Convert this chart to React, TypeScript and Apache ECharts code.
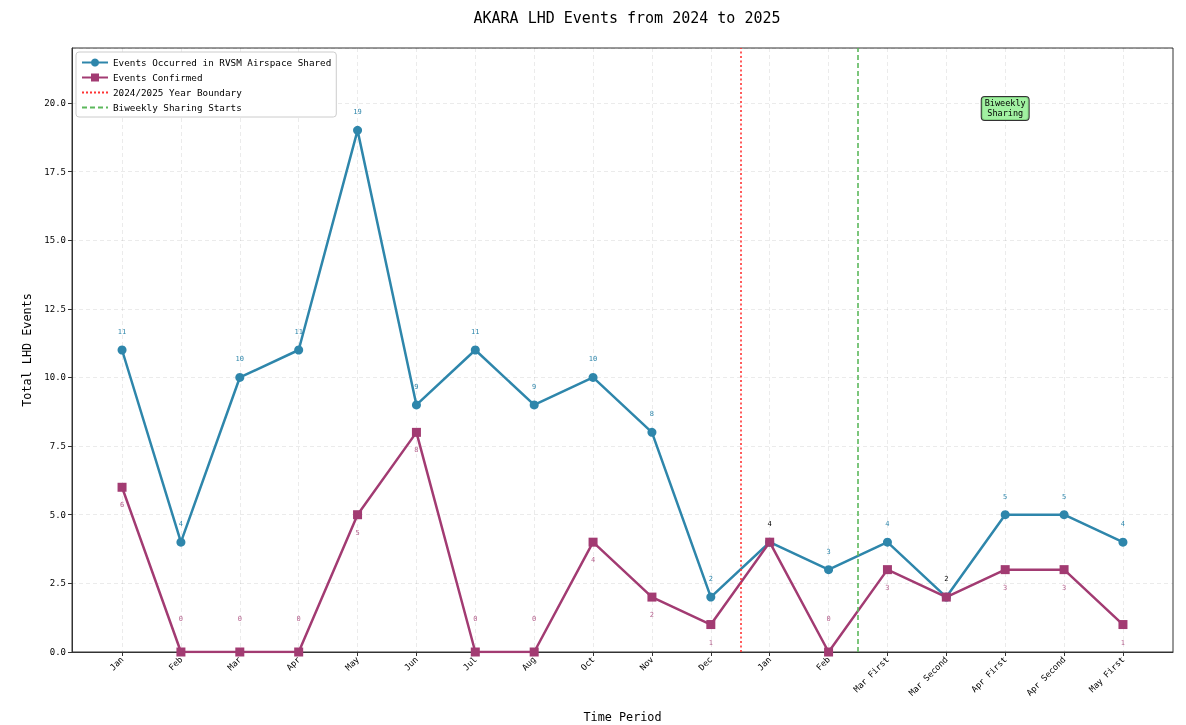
import React, { useEffect, useRef } from "react";
import * as echarts from "echarts";

const categories = ["Jan", "Feb", "Mar", "Apr", "May", "Jun", "Jul", "Aug", "Oct", "Nov", "Dec", "Jan", "Feb", "Mar First", "Mar Second", "Apr First", "Apr Second", "May First"];
const occurred = [11, 4, 10, 11, 19, 9, 11, 9, 10, 8, 2, 4, 3, 4, 2, 5, 5, 4];
const confirmed = [6, 0, 0, 0, 5, 8, 0, 0, 4, 2, 1, 4, 0, 3, 2, 3, 3, 1];
const yearBoundaryX = 10.5;
const biweeklyStartX = 12.5;
const noteCoord = [15, 19.8];
const yTickLabels = ["0.0", "2.5", "5.0", "7.5", "10.0", "12.5", "15.0", "17.5", "20.0"];

const BLUE = "#2E86AB";
const MAG = "#A23B72";
const FONT = "DejaVu Sans Mono";

export default function App() {
  const ref = useRef<HTMLDivElement>(null);
  useEffect(() => {
    const chart = echarts.init(ref.current!, undefined, { renderer: "svg" });
    const idx = categories.map((_, i) => i);
    const blueData = idx.map((i) => {
      const tie = occurred[i] === confirmed[i];
      return {
        value: [i, occurred[i]],
        label: tie ? { color: "#000" } : undefined,
      };
    });
    const magData = idx.map((i) => {
      const tie = occurred[i] === confirmed[i];
      return {
        value: [i, confirmed[i]],
        label: tie ? { show: false } : confirmed[i] === 0 ? { offset: [0, -33] } : undefined,
      };
    });
    chart.setOption({
      animation: false,
      textStyle: { fontFamily: FONT },
      title: {
        text: "AKARA LHD Events from 2024 to 2025",
        left: 622,
        textAlign: "center",
        top: 5,
        textStyle: { fontFamily: FONT, fontSize: 15, fontWeight: "normal", color: "#000" },
      },
      legend: {
        orient: "vertical",
        left: 76,
        top: 52,
        padding: [6, 5, 5, 5],
        itemGap: 6,
        itemWidth: 26,
        itemHeight: 10,
        backgroundColor: "#fff",
        borderColor: "#ccc",
        borderWidth: 1,
        borderRadius: 3,
        textStyle: { fontFamily: FONT, fontSize: 9.3, color: "#000" },
        data: [
          "Events Occurred in RVSM Airspace Shared",
          "Events Confirmed",
          { name: "2024/2025 Year Boundary", itemStyle: { opacity: 0 } },
          { name: "Biweekly Sharing Starts", itemStyle: { opacity: 0 } },
        ],
      },
      grid: {
        left: 72, right: 13, top: 48, bottom: 73,
        outerBoundsMode: "none",
        containLabel: false,
        show: true, borderColor: "#333", borderWidth: 1, backgroundColor: "transparent",
      },
      xAxis: {
        type: "value",
        min: -0.85,
        max: 17.85,
        name: "Time Period",
        nameLocation: "middle",
        nameGap: 59,
        nameTextStyle: { fontFamily: FONT, fontSize: 11.8, color: "#000" },
        axisLine: { show: true, onZero: false, lineStyle: { color: "#333" } },
        axisTick: { show: true, customValues: idx, length: 4, lineStyle: { color: "#333" } },
        axisLabel: {
          customValues: idx,
          rotate: 45,
          fontSize: 8.5,
          color: "#000",
          margin: 6,
          formatter: (v: number) => categories[Math.round(v)] ?? "",
        },
        splitLine: { show: true, lineStyle: { color: "rgba(0,0,0,0.08)", type: [4, 3] } },
      },
      yAxis: {
        type: "value",
        min: 0,
        max: 22,
        interval: 2.5,
        name: "Total LHD Events",
        nameLocation: "middle",
        nameGap: 33,
        nameTextStyle: { fontFamily: FONT, fontSize: 11.8, color: "#000" },
        axisLine: { show: true, onZero: false, lineStyle: { color: "#333" } },
        axisTick: { show: true, length: 4, lineStyle: { color: "#333" } },
        axisLabel: {
          fontSize: 9,
          color: "#000",
          margin: 6,
          showMaxLabel: false,
          formatter: (v: number) => {
            const k = Math.round(v / 2.5);
            return Math.abs(k * 2.5 - v) < 1e-6 ? yTickLabels[k] ?? "" : "";
          },
        },
        splitLine: { show: true, lineStyle: { color: "rgba(0,0,0,0.08)", type: [4, 3] } },
      },
      series: [
        {
          name: "Events Occurred in RVSM Airspace Shared",
          type: "line",
          data: blueData,
          color: BLUE,
          symbol: "circle",
          symbolSize: 9,
          lineStyle: { width: 2.5, color: BLUE },
          itemStyle: { color: BLUE },
          z: 3,
          label: { show: true, position: "inside", offset: [0, -18], fontSize: 7, color: BLUE, fontFamily: FONT },
          markPoint: {
            symbol: "rect",
            symbolSize: 0,
            silent: true,
            data: [{ coord: noteCoord, value: "" }],
            label: {
              show: true,
              formatter: "Biweekly\nSharing",
              position: "inside",
              fontFamily: FONT,
              fontSize: 8.5,
              lineHeight: 10,
              color: "#000",
              backgroundColor: "rgba(144,238,144,0.85)",
              borderColor: "#333",
              borderWidth: 1,
              borderRadius: 3,
              padding: [2, 3, 1, 3],
            },
          },
        },
        {
          name: "Events Confirmed",
          type: "line",
          data: magData,
          color: MAG,
          symbol: "rect",
          symbolSize: 9,
          lineStyle: { width: 2.5, color: MAG },
          itemStyle: { color: MAG },
          z: 3,
          label: { show: true, position: "inside", offset: [0, 18], fontSize: 7, color: "rgba(162,59,114,0.8)", fontFamily: FONT },
        },
        {
          name: "2024/2025 Year Boundary",
          type: "line",
          data: [],
          color: "#ff3333",
          symbol: "none",
          lineStyle: { color: "#ff3333", type: [2, 2], width: 1.6 },
          markLine: {
            silent: true,
            symbol: "none",
            label: { show: false },
            lineStyle: { color: "#ff3333", type: [2, 2.5], width: 1.6 },
            data: [{ xAxis: yearBoundaryX }],
          },
        },
        {
          name: "Biweekly Sharing Starts",
          type: "line",
          data: [],
          color: "#4caf50",
          symbol: "none",
          lineStyle: { color: "#5cb85c", type: [5, 3], width: 1.6 },
          markLine: {
            silent: true,
            symbol: "none",
            label: { show: false },
            lineStyle: { color: "#5cb85c", type: [5, 3], width: 1.6 },
            data: [{ xAxis: biweeklyStartX }],
          },
        },
      ],
    });
    return () => chart.dispose();
  }, []);
  return <div ref={ref} style={{ position: "fixed", left: 0, top: 0, width: 1186, height: 725 }} />;
}
